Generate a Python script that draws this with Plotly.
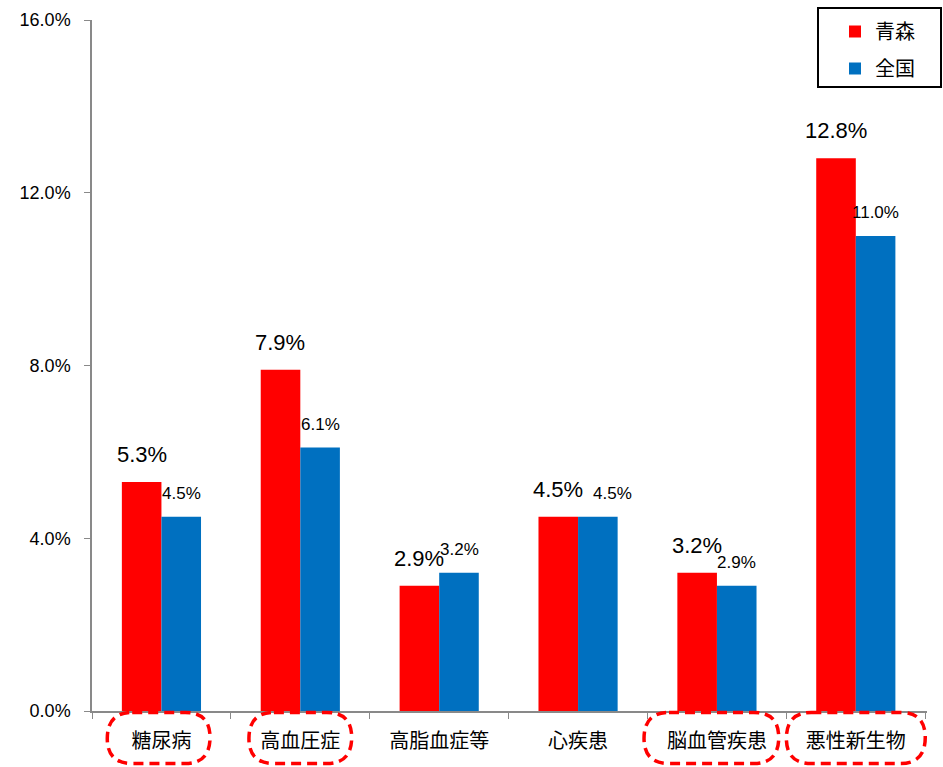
import plotly.graph_objects as go

categories = ["糖尿病", "高血圧症", "高脂血症等", "心疾患", "脳血管疾患", "悪性新生物"]
aomori = [5.3, 7.9, 2.9, 4.5, 3.2, 12.8]
zenkoku = [4.5, 6.1, 3.2, 4.5, 2.9, 11.0]

# layout-only tweaks
highlight = [0, 1, 4, 5]
highlight_halfwidth = [0.37, 0.37, 0.485, 0.5]
highlight_center = [-0.02, 0.0, -0.04, 0.0]
zenkoku_label_dx = [0, 0, 0, 15, 0, 0]

FONT = "Liberation Sans, Noto Sans CJK JP, sans-serif"
JFONT = "Noto Sans CJK JP, sans-serif"
RED = "#FF0000"
BLUE = "#0070C0"

W, H = 943, 767
ML, MR, MT, MB = 92, 16, 20, 56
PW, PH = W - ML - MR, H - MT - MB  # 835 x 691

fig = go.Figure()
fig.add_trace(go.Bar(name="青森", x=categories, y=aomori,
                     marker=dict(color=RED, line=dict(width=0)), legendgroup="a"))
fig.add_trace(go.Bar(name="全国", x=categories, y=zenkoku,
                     marker=dict(color=BLUE, line=dict(width=0)), legendgroup="b"))

annotations = []
cat_px = PW / len(categories)
half_bar = cat_px * (1 - 0.43) / 4
for cat, v in zip(categories, aomori):
    annotations.append(dict(x=cat, y=v, xref="x", yref="y", text=f"{v:.1f}%",
                            showarrow=False, yanchor="bottom", xanchor="center",
                            xshift=-half_bar, yshift=13,
                            font=dict(family=FONT, size=22, color="black")))
for cat, v, dx in zip(categories, zenkoku, zenkoku_label_dx):
    annotations.append(dict(x=cat, y=v, xref="x", yref="y", text=f"{v:.1f}%",
                            showarrow=False, yanchor="bottom", xanchor="center",
                            xshift=half_bar + dx, yshift=12,
                            font=dict(family=FONT, size=17, color="black")))

shapes = []
ry = 25 / PH
rx = 25 / cat_px
y0, y1 = -0.076, -0.002
for idx, hw, dc in zip(highlight, highlight_halfwidth, highlight_center):
    c = idx + dc
    xl, xr = c - hw, c + hw
    path = (f"M {xl+rx} {y1} L {xr-rx} {y1} Q {xr} {y1} {xr} {y1-ry} "
            f"Q {xr} {y0} {xr-rx} {y0} L {xl+rx} {y0} Q {xl} {y0} {xl} {y0+ry} "
            f"Q {xl} {y1} {xl+rx} {y1} Z")
    shapes.append(dict(type="path", xref="x", yref="paper", path=path,
                       line=dict(color=RED, width=3.5, dash="10px,6px")))

# legend box
shapes.append(dict(type="rect", xref="paper", yref="paper",
                   x0=(818 - ML) / PW, x1=(941 - ML) / PW,
                   y0=(H - MB - 87) / PH, y1=(H - MB - 8) / PH,
                   line=dict(color="black", width=2), fillcolor="rgba(0,0,0,0)"))

fig.update_layout(
    width=W, height=H,
    margin=dict(l=ML, r=MR, t=MT, b=MB, autoexpand=False),
    paper_bgcolor="white", plot_bgcolor="white",
    font=dict(family=FONT, size=17, color="black"),
    barmode="group", bargap=0.43, bargroupgap=0,
    showlegend=True,
    legend=dict(xref="container", yref="container",
                x=835 / W, y=1 - 12 / H, xanchor="left", yanchor="top",
                borderwidth=0, bgcolor="rgba(0,0,0,0)",
                font=dict(family=JFONT, size=20), traceorder="grouped",
                tracegroupgap=8, itemwidth=30),
    shapes=shapes,
    annotations=annotations,
    xaxis=dict(showline=True, linecolor="#898989", linewidth=1.5,
               ticks="outside", ticklen=6, tickcolor="#898989",
               tickson="boundaries", tickfont=dict(family=JFONT, size=20),
               ticklabelstandoff=11, showgrid=False, automargin=False),
    yaxis=dict(range=[0, 16], dtick=4, tickformat=".1f", ticksuffix="%",
               showline=True, linecolor="#898989", linewidth=1.5,
               ticks="outside", ticklen=6, tickcolor="#898989",
               ticklabelstandoff=10,
               showgrid=False, zeroline=False, tickfont=dict(size=18),
               automargin=False),
)
fig.write_html(
    "out.html",
    config={"displayModeBar": False},
    post_script="document.body.style.margin='0';document.documentElement.style.overflow='hidden';",
)
